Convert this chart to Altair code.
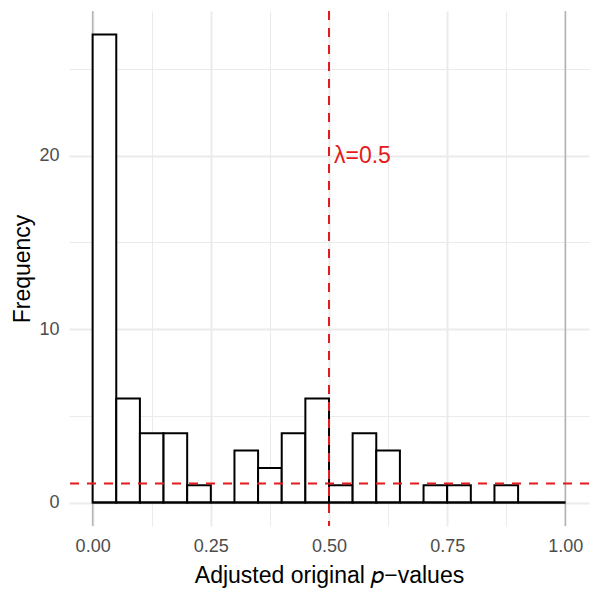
import altair as alt
import pandas as pd

# Histogram bins (width 0.05) and counts
bin_start = [0.00, 0.05, 0.10, 0.15, 0.20, 0.25, 0.30, 0.35, 0.40, 0.45,
             0.50, 0.55, 0.60, 0.65, 0.70, 0.75, 0.80, 0.85, 0.90, 0.95]
bin_end = [0.05, 0.10, 0.15, 0.20, 0.25, 0.30, 0.35, 0.40, 0.45, 0.50,
           0.55, 0.60, 0.65, 0.70, 0.75, 0.80, 0.85, 0.90, 0.95, 1.00]
counts = [27, 6, 4, 4, 1, 0, 3, 2, 4, 6, 1, 4, 3, 0, 1, 1, 0, 1, 0, 0]

lambda_val = [0.5]
h_level = [1.1]
range_edges = [0.0, 1.0]
x_ticks = [0, 0.125, 0.25, 0.375, 0.5, 0.625, 0.75, 0.875, 1.0]
y_ticks = [0, 5, 10, 15, 20, 25]
annot_y = [20]
annot_text = ["λ=0.5"]

RED = "#E41A1C"
FONT = "Liberation Sans"

bars = pd.DataFrame({"x": bin_start, "x2": bin_end, "count": counts})
xscale = alt.Scale(domain=[-0.05, 1.05], nice=False, zero=False)
yscale = alt.Scale(domain=[-1.35, 28.35], nice=False, zero=False)

grid_cond_x = "indexof([0,0.25,0.5,0.75,1], datum.value) >= 0"
grid_cond_y = "datum.value % 10 == 0"

xaxis = alt.Axis(
    values=x_ticks,
    labelExpr="indexof([0,0.25,0.5,0.75,1], datum.value) >= 0 ? format(datum.value, '.2f') : ''",
    title="Adjusted original 𝑝−values",
    grid=True,
    gridColor="#EBEBEB",
    gridWidth={"condition": {"test": grid_cond_x, "value": 2}, "value": 1},
    domain=False, ticks=False, tickSize=0,
    labelPadding=11, titlePadding=9,
    labelFontSize=18, labelColor="#4D4D4D", labelFont=FONT,
    titleFontSize=23, titleColor="black", titleFont=FONT, titleFontWeight="normal",
)
yaxis = alt.Axis(
    values=y_ticks,
    labelExpr="datum.value % 10 == 0 ? format(datum.value, 'd') : ''",
    title="Frequency",
    grid=True,
    gridColor="#EBEBEB",
    gridWidth={"condition": {"test": grid_cond_y, "value": 2}, "value": 1},
    domain=False, ticks=False, tickSize=0,
    labelPadding=10, titlePadding=4,
    labelFontSize=18, labelColor="#4D4D4D", labelFont=FONT,
    titleFontSize=23, titleColor="black", titleFont=FONT, titleFontWeight="normal",
)

base_bars = alt.Chart(bars).mark_rect(fill="white", stroke="black", strokeWidth=2).encode(
    x=alt.X("x:Q", scale=xscale, axis=xaxis),
    x2="x2:Q",
    y=alt.Y("count:Q", scale=yscale, axis=yaxis),
    y2=alt.datum(0),
)

edges = alt.Chart(pd.DataFrame({"x": range_edges})).mark_rule(color="#B3B3B3", strokeWidth=1.5).encode(
    x=alt.X("x:Q", scale=xscale),
)

baseline = alt.Chart(pd.DataFrame({"x": [range_edges[0]], "x2": [range_edges[1]], "y": [0]})).mark_rule(
    color="black", strokeWidth=2
).encode(x=alt.X("x:Q", scale=xscale), x2="x2:Q", y=alt.Y("y:Q", scale=yscale))

vline = alt.Chart(pd.DataFrame({"x": lambda_val})).mark_rule(
    color=RED, strokeWidth=2, strokeDash=[9, 8]
).encode(x=alt.X("x:Q", scale=xscale))

hline = alt.Chart(pd.DataFrame({"y": h_level})).mark_rule(
    color=RED, strokeWidth=2, strokeDash=[9, 8]
).encode(y=alt.Y("y:Q", scale=yscale))

annot = alt.Chart(pd.DataFrame({"x": lambda_val, "y": annot_y, "t": annot_text})).mark_text(
    align="left", baseline="middle", dx=5, color=RED, fontSize=23, font=FONT
).encode(x=alt.X("x:Q", scale=xscale), y=alt.Y("y:Q", scale=yscale), text="t:N")

chart = alt.layer(edges, base_bars, baseline, vline, hline, annot).properties(
    width=520, height=515,
    background="white",
    autosize=alt.AutoSizeParams(type="none"),
    padding={"left": 69, "top": 11, "right": 11, "bottom": 74},
).configure_view(stroke=None)

chart.save("out.html", embed_options={"renderer": "svg", "actions": False})
